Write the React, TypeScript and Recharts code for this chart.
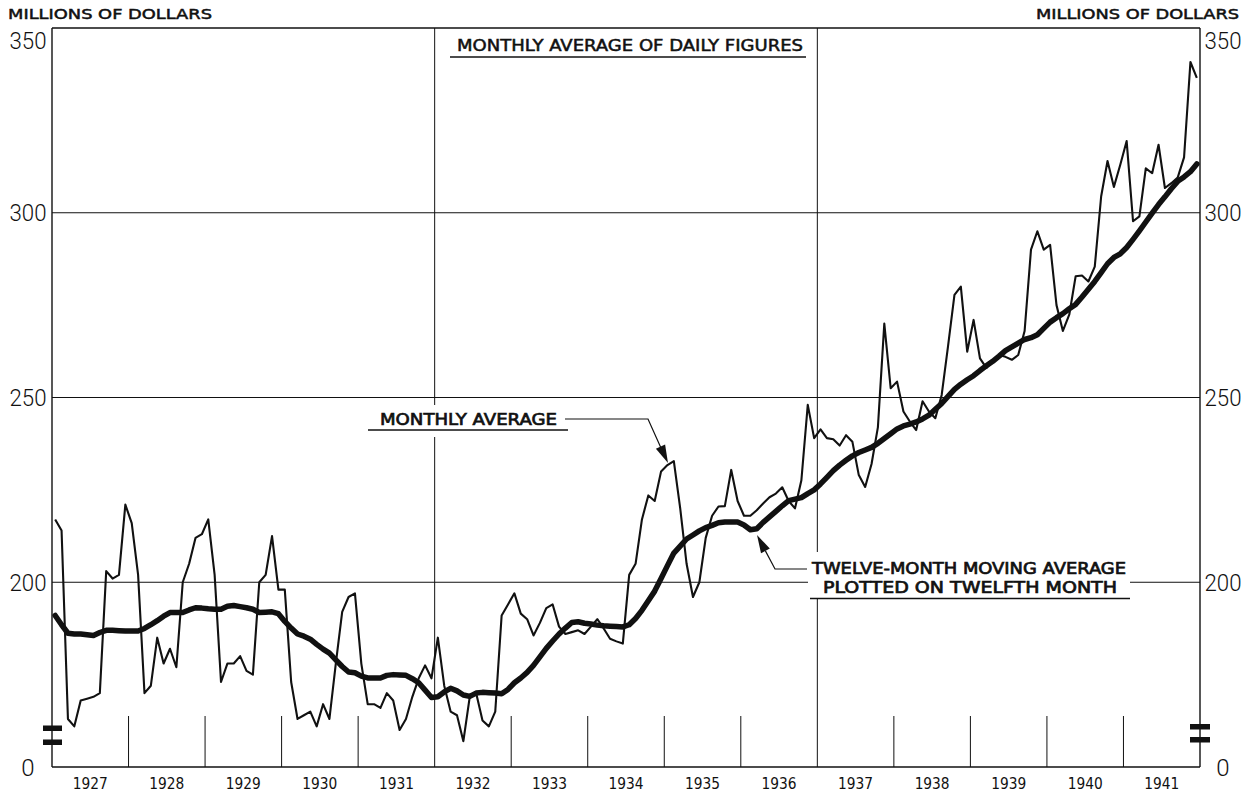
import React from 'react';
import { LineChart, Line, XAxis, YAxis, ReferenceLine } from 'recharts';

// ---------- DATA ----------
const years = ['1927', '1928', '1929', '1930', '1931', '1932', '1933', '1934', '1935', '1936', '1937', '1938', '1939', '1940', '1941'];

// Monthly average of daily figures, millions of dollars (Jan 1927 - Dec 1941)
const monthly = [
  217, 214, 163, 161, 168, 168.5, 169, 170, 203, 201, 202, 221,
  216, 202, 170, 172, 185, 178, 182, 177, 200, 205, 212, 213,
  217, 202, 173, 178, 178, 180, 176, 175, 200, 202, 212.5, 198,
  198, 173, 163, 164, 165, 161, 167, 163, 178, 192, 196, 197,
  178, 167, 167, 166, 170, 168, 160, 163, 169, 174, 177.5, 174,
  185, 172, 165, 164, 157, 169, 170, 162.6, 161, 165, 191, 194,
  197, 191.5, 190, 185.6, 189, 193, 194, 188, 186, 186.5, 187, 186,
  188, 190, 187.5, 184.7, 184, 183.4, 202, 205, 217, 223.5, 222, 230,
  231.7, 232.8, 220, 205, 196, 200, 212, 218, 220.5, 220.6, 230.4, 222,
  218, 218, 219.5, 221.3, 223, 224, 225.7, 222, 220, 227.6, 248, 239,
  241.4, 239, 238.7, 237, 239.8, 238, 229, 225.8, 232, 242, 270, 252.5,
  254.3, 246.2, 243.5, 241.2, 249, 246.2, 244.4, 250.7, 264, 277.8, 280, 262.4,
  271, 260.6, 258, 260, 261.5, 261, 260.2, 261.5, 268, 290, 295, 290,
  291.3, 275, 268, 272.4, 282.8, 283, 281.4, 285.4, 304.4, 314, 307, 313,
  319.4, 297.7, 299, 312, 310.7, 318.4, 306.7, 308, 309.5, 315, 340.8, 336.5,
];

// Twelve-month moving average plotted on twelfth month
const movingAvg = [
  191, 188.5, 186.2, 186, 186, 185.8, 185.6, 186.4, 187, 187, 186.9, 186.8,
  186.8, 186.8, 187.5, 188.5, 189.6, 190.8, 191.8, 191.8, 191.8, 192.5, 193.1, 193,
  192.8, 192.7, 192.7, 193.5, 193.7, 193.4, 193.1, 192.7, 191.8, 191.9, 192, 191.5,
  189.4, 187.6, 186, 185.4, 184.6, 183.2, 181.9, 180.8, 179, 177.2, 175.7, 175.5,
  174.6, 174.1, 174.1, 174.1, 174.8, 175, 174.9, 174.8, 173.9, 172.8, 170.8, 168.8,
  169, 170.3, 171.3, 170.6, 169.5, 169.1, 170, 170.2, 170.1, 170, 169.8, 171,
  172.8, 174.1, 175.6, 177.5, 179.8, 182.1, 184.1, 186, 187.6, 189.1, 189.3, 188.9,
  188.7, 188.4, 188.2, 188.1, 188, 187.9, 188.5, 190.2, 192.4, 195, 197.6, 201,
  204.5, 207.9, 209.8, 211.7, 212.8, 213.9, 214.8, 215.4, 216.1, 216.3, 216.3, 216.3,
  215.5, 214.2, 214.5, 216.2, 217.7, 219.2, 220.7, 222.1, 222.5, 222.9, 224, 225,
  226.6, 228.4, 230.2, 231.7, 233, 234.2, 235.1, 235.8, 236.5, 237.6, 238.9, 240.2,
  241.5, 242.3, 242.8, 243.4, 244.2, 245.2, 246.8, 248.4, 250.3, 252.2, 253.6, 254.8,
  255.9, 257.3, 258.6, 259.8, 261.2, 262.7, 263.7, 264.7, 265.7, 266.2, 267, 268.7,
  270.4, 271.6, 272.7, 274, 275.2, 277.2, 279.3, 281.4, 283.8, 286.2, 287.9, 288.9,
  290.6, 292.8, 295.1, 297.5, 299.9, 302.2, 304.3, 306.5, 308.5, 309.7, 311.1, 313.2,
];

const yTicks = [150, 200, 250, 300, 350];
const yTickLabels = ['0', '200', '250', '300', '350'];
const gridValues = [200, 250, 300];
const fullGridBoundaries = [5, 10]; // year boundaries drawn as full grid lines (1932, 1937)
const yearTickTop = 163.8; // top of the short year-boundary ticks (value units)

const data = monthly.map((m, i) => ({ t: i + 0.5, m, ma: movingAvg[i] }));
const boundaries = years.slice(1).map((_, k) => k + 1);

const INK = '#111';
const LETTER = "'DejaVu Sans', sans-serif";

const YTick = (props: any) => {
  const { x, y, payload, side } = props;
  const idx = yTicks.indexOf(payload.value);
  const label = yTickLabels[idx];
  const dy = payload.value === 350 ? 12 : 0;
  const cx = side === 'left' ? x - 24 : x + 23;
  return (
    <text
      x={cx}
      y={y + dy}
      dy="0.36em"
      textAnchor="middle"
      fontFamily="Roboto, sans-serif"
      fontWeight={300}
      fontSize={24}
      fill={INK}
      textLength={label.length > 1 ? 37 : undefined}
      lengthAdjust="spacingAndGlyphs"
    >
      {label}
    </text>
  );
};

const XTick = (props: any) => {
  const { x, y, payload } = props;
  const label = years[(payload.value - 6) / 12];
  return (
    <text
      x={x}
      y={y + 21.5}
      textAnchor="middle"
      fontFamily={LETTER}
      fontSize={15}
      fill={INK}
      textLength={35}
      lengthAdjust="spacingAndGlyphs"
    >
      {label}
    </text>
  );
};

const Annotations = () => (
  <svg
    width={1251}
    height={791}
    style={{ position: 'absolute', left: 0, top: 0, pointerEvents: 'none' }}
  >
    {/* headers */}
    <text x={8} y={19} fontFamily={LETTER} fontSize={14} fill={INK} stroke={INK} strokeWidth={0.5} textLength={204} lengthAdjust="spacingAndGlyphs">MILLIONS OF DOLLARS</text>
    <text x={1036} y={19} fontFamily={LETTER} fontSize={14} fill={INK} stroke={INK} strokeWidth={0.5} textLength={203} lengthAdjust="spacingAndGlyphs">MILLIONS OF DOLLARS</text>

    {/* top caption */}
    <text x={457} y={51} fontFamily={LETTER} fontSize={15} fill={INK} stroke={INK} strokeWidth={0.5} textLength={346} lengthAdjust="spacingAndGlyphs">MONTHLY AVERAGE OF DAILY FIGURES</text>
    <line x1={450} x2={806} y1={57} y2={57} stroke={INK} strokeWidth={1.5} />

    {/* monthly average label */}
    <rect x={368} y={405} width={200} height={32} fill="#fff" />
    <text x={380} y={425} fontFamily={LETTER} fontSize={16} fill={INK} stroke={INK} strokeWidth={0.7} textLength={177} lengthAdjust="spacingAndGlyphs">MONTHLY AVERAGE</text>
    <line x1={368} x2={568} y1={430} y2={430} stroke={INK} strokeWidth={1.5} />
    <polyline points="565,419 648,419 661,448" fill="none" stroke={INK} strokeWidth={1.2} />
    <polygon points="668,463 665.1,444.5 655.9,448.7" fill={INK} />

    {/* moving average label */}
    <rect x={808} y={552} width={322} height={46} fill="#fff" />
    <text x={812} y={574} fontFamily={LETTER} fontSize={15.5} fill={INK} stroke={INK} strokeWidth={0.7} textLength={314} lengthAdjust="spacingAndGlyphs">TWELVE-MONTH MOVING AVERAGE</text>
    <text x={823} y={593} fontFamily={LETTER} fontSize={15.5} fill={INK} stroke={INK} strokeWidth={0.7} textLength={294} lengthAdjust="spacingAndGlyphs">PLOTTED ON TWELFTH MONTH</text>
    <line x1={810} x2={1130} y1={598.5} y2={598.5} stroke={INK} strokeWidth={1.5} />
    <polyline points="807,569 775,569 765.4,550.9" fill="none" stroke={INK} strokeWidth={1.2} />
    <polygon points="757,535 769.8,548.6 761,553.2" fill={INK} />

    {/* axis break marks */}
    <rect x={43} y={725.5} width={19} height={5.5} fill={INK} />
    <rect x={43} y={739.5} width={19} height={5.5} fill={INK} />
    <rect x={1190} y={724} width={20} height={5.5} fill={INK} />
    <rect x={1190} y={737} width={20} height={5.5} fill={INK} />
  </svg>
);

export default function App() {
  return (
    <div style={{ position: 'absolute', left: 0, top: 0, width: 1251, height: 791, background: '#fff' }}>
      <LineChart
        width={1251}
        height={791}
        data={data}
        margin={{ top: 28, right: 7, bottom: 0, left: 8 }}
      >
        <XAxis
          type="number"
          dataKey="t"
          domain={[0, 180]}
          ticks={years.map((_, k) => 12 * k + 6)}
          tick={<XTick />}
          tickLine={false}
          tickSize={0}
          tickMargin={0}
          axisLine={{ stroke: INK, strokeWidth: 1.4 }}
          height={24}
          interval={0}
          allowDataOverflow
        />
        <YAxis
          yAxisId="left"
          orientation="left"
          type="number"
          domain={[150, 350]}
          ticks={yTicks}
          tick={<YTick side="left" />}
          tickLine={false}
          tickSize={0}
          tickMargin={0}
          axisLine={{ stroke: INK, strokeWidth: 1.4 }}
          width={44}
          interval={0}
          allowDataOverflow
        />
        <YAxis
          yAxisId="right"
          orientation="right"
          type="number"
          domain={[150, 350]}
          ticks={yTicks}
          tick={<YTick side="right" />}
          tickLine={false}
          tickSize={0}
          tickMargin={0}
          axisLine={{ stroke: INK, strokeWidth: 1.4 }}
          width={44}
          interval={0}
          allowDataOverflow
        />
        <ReferenceLine yAxisId="left" y={350} stroke={INK} strokeWidth={1.4} />
        {gridValues.map((v) => (
          <ReferenceLine key={'h' + v} yAxisId="left" y={v} stroke={INK} strokeWidth={1} />
        ))}
        {boundaries.map((k) =>
          fullGridBoundaries.includes(k) ? (
            <ReferenceLine key={'v' + k} yAxisId="left" x={12 * k} stroke={INK} strokeWidth={1} />
          ) : (
            <ReferenceLine
              key={'v' + k}
              yAxisId="left"
              segment={[{ x: 12 * k, y: 150 }, { x: 12 * k, y: yearTickTop }]}
              stroke={INK}
              strokeWidth={1}
            />
          )
        )}
        <Line
          yAxisId="left"
          type="linear"
          dataKey="ma"
          stroke={INK}
          strokeWidth={5.5}
          dot={false}
          strokeLinejoin="round"
          strokeLinecap="round"
          isAnimationActive={false}
        />
        <Line
          yAxisId="left"
          type="linear"
          dataKey="m"
          stroke={INK}
          strokeWidth={2.1}
          dot={false}
          strokeLinejoin="round"
          isAnimationActive={false}
        />
      </LineChart>
      <Annotations />
    </div>
  );
}
